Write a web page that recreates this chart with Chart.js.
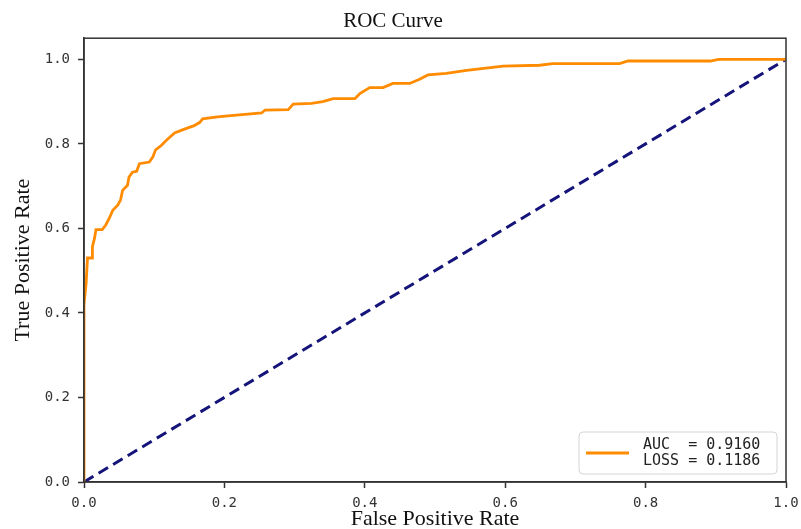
<!DOCTYPE html>
<html lang="en">
<head>
    <meta charset="UTF-8">
    <title>ROC Curve</title>
    <script src="https://cdn.jsdelivr.net/npm/chart.js@4.4.1/dist/chart.umd.min.js"></script>
    <style>
        body { margin: 0; background: #fff; }
        #wrap { width: 801px; height: 529px; }
    </style>
</head>
<body>
    <div id="wrap">
        <canvas id="roc" width="801" height="529"></canvas>
    </div>

    <script>
        // ROC points (false positive rate / true positive rate)
        const fpr = [0, 0, 0.003, 0.005, 0.012, 0.012, 0.015, 0.017, 0.026, 0.031, 0.036, 0.041,
            0.048, 0.052, 0.055, 0.062, 0.064, 0.069, 0.075, 0.079, 0.093, 0.098, 0.102, 0.110,
            0.117, 0.129, 0.143, 0.157, 0.165, 0.169, 0.190, 0.217, 0.253, 0.258, 0.291, 0.298,
            0.324, 0.340, 0.355, 0.386, 0.393, 0.407, 0.426, 0.440, 0.464, 0.478, 0.490, 0.516,
            0.545, 0.597, 0.649, 0.668, 0.763, 0.775, 0.892, 0.904, 1.0];
        const tpr = [0, 0.42, 0.47, 0.53, 0.53, 0.557, 0.577, 0.597, 0.597, 0.608, 0.624, 0.643,
            0.655, 0.667, 0.690, 0.702, 0.721, 0.733, 0.735, 0.753, 0.757, 0.769, 0.786, 0.796,
            0.808, 0.826, 0.835, 0.843, 0.851, 0.859, 0.864, 0.868, 0.873, 0.880, 0.881, 0.894,
            0.896, 0.900, 0.907, 0.907, 0.919, 0.933, 0.933, 0.943, 0.943, 0.953, 0.963, 0.967,
            0.974, 0.984, 0.986, 0.990, 0.990, 0.996, 0.996, 1.0, 1.0];

        // chance line
        const diagX = [0, 1];
        const diagY = [0, 1];

        const aucValue = 0.9160;
        const lossValue = 0.1186;
        const tickValues = [0, 0.2, 0.4, 0.6, 0.8, 1.0];

        const serif = "'Liberation Serif', 'Times New Roman', serif";
        const mono = "'DejaVu Sans Mono', monospace";

        // frame around the plot area (matplotlib spines)
        const framePlugin = {
            id: 'frame',
            afterDraw(chart) {
                const { ctx, chartArea: a } = chart;
                ctx.save();
                ctx.strokeStyle = '#333';
                ctx.lineWidth = 1.5;
                ctx.strokeRect(a.left, a.top, a.right - a.left, a.bottom - a.top);
                ctx.restore();
            }
        };

        // legend box in the lower right corner
        const cornerLegend = {
            id: 'cornerLegend',
            afterDraw(chart) {
                const { ctx, chartArea: a } = chart;
                const ds = chart.data.datasets[0];
                const w = 198, h = 42;
                const x = a.right - 9 - w;
                const y = a.bottom - 8 - h;
                ctx.save();
                ctx.fillStyle = 'rgba(255,255,255,0.85)';
                ctx.strokeStyle = '#d4d4d4';
                ctx.lineWidth = 1;
                ctx.beginPath();
                ctx.roundRect(x, y, w, h, 4);
                ctx.fill();
                ctx.stroke();

                ctx.strokeStyle = ds.borderColor;
                ctx.lineWidth = ds.borderWidth;
                ctx.beginPath();
                ctx.moveTo(x + 7, y + h / 2);
                ctx.lineTo(x + 50, y + h / 2);
                ctx.stroke();

                ctx.fillStyle = '#222';
                ctx.font = '15px ' + mono;
                ctx.textBaseline = 'middle';
                ds.label.forEach((line, i) => {
                    ctx.fillText(line, x + 64, y + h / 2 + (i === 0 ? -8 : 8));
                });
                ctx.restore();
            }
        };

        const rocPoints = fpr.map((v, i) => ({ x: v, y: tpr[i] }));
        const diagPoints = diagX.map((v, i) => ({ x: v, y: diagY[i] }));

        new Chart(document.getElementById('roc'), {
            type: 'scatter',
            data: {
                datasets: [
                    {
                        label: ['AUC  = ' + aucValue.toFixed(4), 'LOSS = ' + lossValue.toFixed(4)],
                        data: rocPoints,
                        showLine: true,
                        borderColor: '#FF8C00',
                        borderWidth: 2.8,
                        pointRadius: 0,
                        tension: 0
                    },
                    {
                        label: 'chance',
                        data: diagPoints,
                        showLine: true,
                        borderColor: '#14147a',
                        borderWidth: 3,
                        borderDash: [11, 6],
                        pointRadius: 0
                    }
                ]
            },
            options: {
                responsive: false,
                animation: false,
                layout: { padding: { left: 0, right: 15, top: 0, bottom: 0 } },
                plugins: {
                    legend: { display: false },
                    tooltip: { enabled: false },
                    title: {
                        display: true,
                        text: 'ROC Curve',
                        color: '#111',
                        font: { family: serif, size: 21, weight: 'normal', lineHeight: 1.2 },
                        padding: { top: 9, bottom: 4 }
                    }
                },
                scales: {
                    x: {
                        type: 'linear',
                        min: 0,
                        max: 1,
                        afterBuildTicks: s => { s.ticks = tickValues.map(v => ({ value: v })); },
                        afterFit: s => { s.height = 47; s.paddingLeft = 0; s.paddingRight = 0; },
                        grid: { drawOnChartArea: false, drawTicks: true, tickLength: 6, tickColor: '#333', tickWidth: 1.5 },
                        border: { display: true, color: '#333', width: 1.5 },
                        ticks: {
                            maxRotation: 0,
                            padding: 7,
                            color: '#333',
                            font: { family: mono, size: 14 },
                            callback: v => v.toFixed(1)
                        },
                        title: {
                            display: true,
                            text: 'False Positive Rate',
                            color: '#111',
                            font: { family: serif, size: 22, lineHeight: 0.9 },
                            padding: { top: 0, bottom: 0 }
                        }
                    },
                    y: {
                        type: 'linear',
                        min: 0,
                        max: 1.05,
                        afterBuildTicks: s => { s.ticks = tickValues.map(v => ({ value: v })); },
                        afterFit: s => { s.width = 84; s.paddingTop = 0; s.paddingBottom = 0; },
                        grid: { drawOnChartArea: false, drawTicks: true, tickLength: 6, tickColor: '#333', tickWidth: 1.5 },
                        border: { display: true, color: '#333', width: 1.5 },
                        ticks: {
                            padding: 8,
                            color: '#333',
                            font: { family: mono, size: 14 },
                            callback: v => v.toFixed(1)
                        },
                        title: {
                            display: true,
                            text: 'True Positive Rate',
                            color: '#111',
                            font: { family: serif, size: 22, lineHeight: 0.9 },
                            padding: { top: 13, bottom: 0 }
                        }
                    }
                }
            },
            plugins: [framePlugin, cornerLegend]
        });
    </script>
</body>
</html>
